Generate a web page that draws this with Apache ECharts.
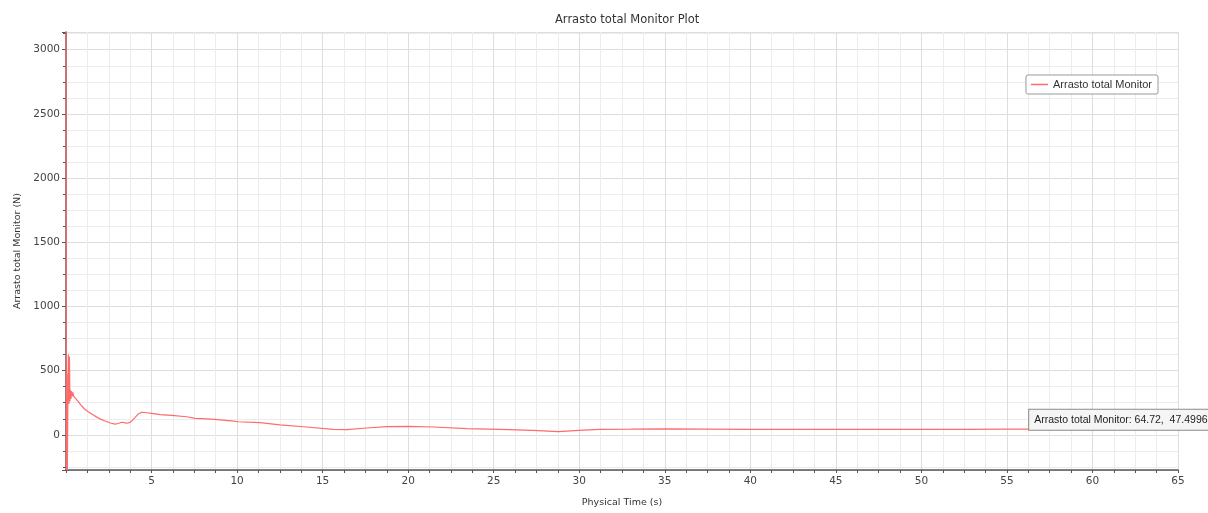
<!DOCTYPE html>
<html>
<head>
<meta charset="utf-8">
<script src="https://cdn.jsdelivr.net/npm/echarts@6/dist/echarts.min.js"></script>
<style>
  html, body { margin: 0; padding: 0; background: #ffffff; }
  #chart { width: 1208px; height: 513px; }
</style>
</head>
<body>
<div id="chart"></div>
<script>
// Monitor history: physical time (s) and total drag force (N)
const seriesName = 'Arrasto total Monitor';
const physicalTime = [
  0, 0.02, 0.05, 0.08, 0.11, 0.14, 0.17, 0.2, 0.23, 0.26, 0.29, 0.32, 0.36, 0.4, 0.45,
  0.53, 0.65, 0.85, 1.05, 1.3, 1.55, 1.8, 2.05, 2.28, 2.6, 2.86, 3.05, 3.25, 3.4, 3.55,
  3.7, 3.85, 4.03, 4.2, 4.42, 4.72, 5.0, 5.5, 6.18, 7.05, 7.54, 8.2, 8.7, 9.8, 10.06,
  11.35, 12.5, 14.07, 15.62, 16.4, 17.57, 18.74, 20.0, 21.47, 23.42, 25.37, 27.3, 28.77,
  30.23, 31.2, 33.0, 35.0, 37.5, 40.0, 42.5, 45.0, 47.5, 50.0, 52.5, 55.0, 57.5, 60.0,
  62.5, 64.72
];
const dragForce = [
  3138, -274, 480, -274, 300, 626, 240, 610, 260, 350, 280, 340, 300, 330, 300,
  292, 270, 235, 205, 180, 158, 138, 120, 108, 92, 84, 88, 98, 95, 90,
  95, 108, 134, 160, 176, 172, 167, 158, 152, 141, 128, 124, 121, 106, 102,
  95, 77, 61, 43, 40, 53, 64, 66, 61, 48, 43, 35, 25,
  37, 43, 44, 47, 45, 43, 42, 42, 42, 43, 43, 44, 45, 46,
  47, 47.4996
];

// Axis settings
const xRange = [0, 65];
const yRange = [-274, 3138];

const points = physicalTime.map((t, i) => [t, dragForce[i]]);
const lastPoint = points[points.length - 1];

const axisText = { color: '#444', fontFamily: 'DejaVu Sans', fontSize: 10.5 };
const nameText = { color: '#333', fontFamily: 'DejaVu Sans', fontSize: 9.5 };

const chart = echarts.init(document.getElementById('chart'), null, { renderer: 'canvas' });
chart.setOption({
  animation: false,
  backgroundColor: '#ffffff',
  title: {
    text: 'Arrasto total Monitor Plot',
    left: 550,
    top: 9,
    textStyle: { color: '#333', fontFamily: 'DejaVu Sans', fontSize: 11.5, fontWeight: 'normal' }
  },
  legend: {
    right: 50,
    top: 75,
    orient: 'horizontal',
    backgroundColor: '#ffffff',
    borderColor: '#9a9a9a',
    borderWidth: 1,
    borderRadius: 2,
    padding: [4, 6, 4, 5],
    icon: 'rect',
    itemWidth: 17,
    itemHeight: 1.5,
    itemGap: 5,
    textStyle: { color: '#333', fontFamily: 'Liberation Sans', fontSize: 11 },
    data: [seriesName]
  },
  grid: { left: 66, right: 30, top: 32, bottom: 42.5, containLabel: false },
  xAxis: {
    type: 'value',
    min: xRange[0],
    max: xRange[1],
    interval: 5,
    name: 'Physical Time (s)',
    nameLocation: 'middle',
    nameGap: 28,
    nameTextStyle: nameText,
    axisLine: { show: true, onZero: false, lineStyle: { color: '#555', width: 1.5 } },
    axisTick: { show: true, length: 3, lineStyle: { color: '#555' } },
    minorTick: { show: true, splitNumber: 4, length: 3, lineStyle: { color: '#555' } },
    axisLabel: Object.assign({ margin: 6, showMinLabel: false, formatter: v => String(v) }, axisText),
    splitLine: { show: true, lineStyle: { color: '#dedede', width: 1 } },
    minorSplitLine: { show: true, lineStyle: { color: '#ececec', width: 1 } }
  },
  yAxis: {
    type: 'value',
    min: yRange[0],
    max: yRange[1],
    minInterval: 500,
    maxInterval: 500,
    name: 'Arrasto total Monitor (N)',
    nameLocation: 'middle',
    nameGap: 42,
    nameTextStyle: nameText,
    axisLine: { show: true, onZero: false, lineStyle: { color: '#555', width: 1.5 } },
    axisTick: { show: true, length: 4, lineStyle: { color: '#555' } },
    minorTick: { show: true, splitNumber: 4, length: 3, lineStyle: { color: '#555' } },
    axisLabel: Object.assign({ margin: 6, showMinLabel: false, showMaxLabel: false, formatter: v => String(v) }, axisText),
    splitLine: { show: true, lineStyle: { color: '#dedede', width: 1 } },
    minorSplitLine: { show: true, lineStyle: { color: '#ececec', width: 1 } }
  },
  series: [{
    name: seriesName,
    type: 'line',
    data: points,
    showSymbol: false,
    symbol: 'none',
    smooth: false,
    clip: true,
    color: '#ff6a6a',
    lineStyle: { color: '#ff6a6a', width: 1.2 },
    markPoint: {
      symbol: 'rect',
      symbolSize: 0,
      silent: true,
      data: [{
        coord: lastPoint,
        label: {
          show: true,
          position: [-144, -19],
          align: 'left',
          verticalAlign: 'top',
          formatter: () => seriesName + ': ' + lastPoint[0] + ',  ' + lastPoint[1],
          color: '#222',
          fontFamily: 'Liberation Sans',
          fontSize: 10.5,
          lineHeight: 12,
          backgroundColor: '#f5f5f5',
          borderColor: '#8a8a8a',
          borderWidth: 1,
          padding: [4, 5, 4, 5]
        }
      }]
    }
  }]
});
</script>
</body>
</html>
